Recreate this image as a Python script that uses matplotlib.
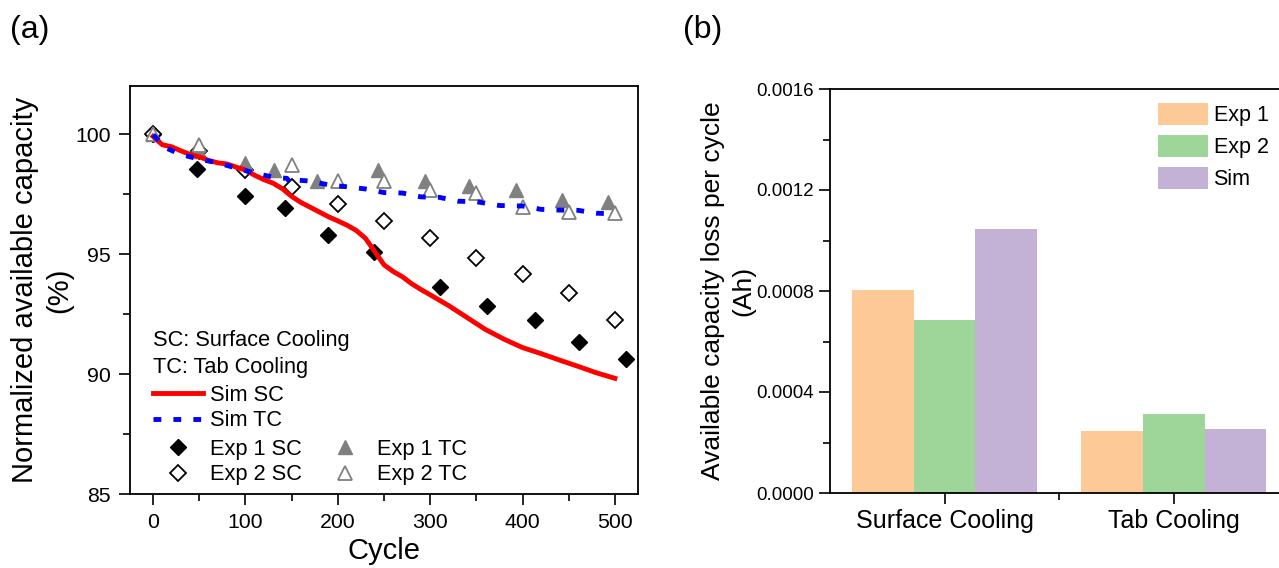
import numpy as np
import matplotlib
matplotlib.use("Agg")
import matplotlib.pyplot as plt
from matplotlib.ticker import MultipleLocator, FormatStrFormatter
from matplotlib.lines import Line2D

plt.rcParams['font.family'] = ['Liberation Sans', 'DejaVu Sans']

# (a) capacity vs cycle
sim_sc_cyc = [0, 10, 20, 30, 40, 50, 60, 70, 80, 90, 100, 110, 120, 130, 140, 150, 160, 170, 180, 190,
              200, 210, 220, 230, 240, 250, 260, 270, 280, 290, 300, 320, 340, 360, 380, 400, 420, 440,
              460, 480, 500]
sim_sc_val = [99.9, 99.55, 99.47, 99.3, 99.15, 99.05, 98.9, 98.8, 98.75, 98.62, 98.5, 98.28, 98.1, 97.95,
              97.72, 97.4, 97.15, 96.95, 96.75, 96.55, 96.38, 96.2, 95.98, 95.65, 95.1, 94.55, 94.27,
              94.05, 93.76, 93.52, 93.3, 92.85, 92.35, 91.85, 91.45, 91.1, 90.85, 90.58, 90.32, 90.05, 89.82]
sim_tc_cyc = [0, 15, 30, 50, 70, 90, 110, 130, 145, 149, 155, 170, 190, 210, 230, 250, 270, 290, 310, 330,
              350, 375, 400, 420, 440, 460, 480, 500]
sim_tc_val = [99.96, 99.4, 99.15, 98.95, 98.8, 98.58, 98.37, 98.2, 98.15, 97.95, 98.08, 98.04, 97.88, 97.8,
              97.71, 97.56, 97.54, 97.38, 97.36, 97.2, 97.18, 97.02, 97.0, 96.86, 96.83, 96.82, 96.7, 96.67]

exp1_sc_cyc = [0, 48, 100, 143, 189, 239, 311, 362, 413, 461, 512]
exp1_sc_val = [100, 98.53, 97.42, 96.9, 95.79, 95.07, 93.61, 92.85, 92.25, 91.35, 90.63]
exp2_sc_cyc = [0, 50, 100, 150, 200, 250, 300, 350, 400, 450, 500]
exp2_sc_val = [100, 99.3, 98.5, 97.8, 97.08, 96.36, 95.67, 94.82, 94.15, 93.39, 92.25]
exp1_tc_cyc = [0, 50, 100, 131, 177, 244, 294, 342, 393, 443, 493]
exp1_tc_val = [100, 99.3, 98.8, 98.5, 98.05, 98.5, 98.05, 97.85, 97.65, 97.25, 97.15]
exp2_tc_cyc = [0, 50, 150, 200, 250, 300, 350, 400, 450, 500]
exp2_tc_val = [100, 99.55, 98.7, 98.06, 98.06, 97.67, 97.56, 96.94, 96.75, 96.7]

# (b) capacity loss per cycle
groups = ['Surface Cooling', 'Tab Cooling']
loss_exp1 = [0.000805, 0.000246]
loss_exp2 = [0.000685, 0.000311]
loss_sim = [0.001046, 0.000252]
bar_colors = ['#FDC997', '#9ED69A', '#C3B1D6']

fig = plt.figure(figsize=(12.79, 5.68), dpi=100)

# ---------------- (a)
ax = fig.add_axes([130/1279, 1-494/568, 508/1279, 408/568])
ax.plot(exp1_sc_cyc, exp1_sc_val, 'D', color='black', ms=8, zorder=2)
ax.plot(exp2_sc_cyc, exp2_sc_val, 'D', mfc='white', mec='black', mew=1.3, ms=8, zorder=2)
ax.plot(exp1_tc_cyc, exp1_tc_val, '^', color='#808080', ms=10, zorder=2)
ax.plot(exp2_tc_cyc, exp2_tc_val, '^', mfc='white', mec='#808080', mew=1.3, ms=10, zorder=2)
ax.plot(sim_sc_cyc, sim_sc_val, '-', color='red', lw=3.5, zorder=3)
ax.plot(sim_tc_cyc, sim_tc_val, '--', color='blue', lw=3.5, dashes=(1.6, 2.5), zorder=3)

ax.set_xlim(-25, 525)
ax.set_ylim(85, 102)
ax.xaxis.set_major_locator(MultipleLocator(100))
ax.xaxis.set_minor_locator(MultipleLocator(50))
ax.yaxis.set_major_locator(MultipleLocator(5))
ax.yaxis.set_minor_locator(MultipleLocator(2.5))
ax.tick_params(which='both', direction='out', labelsize=15.3, width=1.2, pad=6)
ax.tick_params(which='major', length=8)
ax.tick_params(which='minor', length=5)
for s in ax.spines.values():
    s.set_linewidth(1.3)
ax.set_xlabel('Cycle', fontsize=21, labelpad=3)
ax.set_ylabel('Normalized available capacity\n(%)', fontsize=21, labelpad=1, linespacing=1.3)

ax.text(0.045, 0.377, 'SC: Surface Cooling', transform=ax.transAxes, fontsize=15.7, va='center')
ax.text(0.045, 0.311, 'TC: Tab Cooling', transform=ax.transAxes, fontsize=15.7, va='center')

h_sim = [Line2D([], [], color='red', lw=3.5),
         Line2D([], [], color='blue', lw=3.5, ls='--', dashes=(1.6, 2.5))]
leg1 = ax.legend(h_sim, ['Sim SC', 'Sim TC'], loc='upper left', bbox_to_anchor=(0.045, 0.268),
                 frameon=False, fontsize=15.7, handlelength=2.3, handletextpad=0.3,
                 labelspacing=0.22, borderpad=0, borderaxespad=0)
ax.add_artist(leg1)
h_exp = [Line2D([], [], ls='', marker='D', color='black', ms=8),
         Line2D([], [], ls='', marker='D', mfc='white', mec='black', mew=1.3, ms=8),
         Line2D([], [], ls='', marker='^', color='#808080', ms=10),
         Line2D([], [], ls='', marker='^', mfc='white', mec='#808080', mew=1.3, ms=10)]
ax.legend(h_exp, ['Exp 1 SC', 'Exp 2 SC', 'Exp 1 TC', 'Exp 2 TC'], ncol=2, loc='upper left',
          bbox_to_anchor=(0.045, 0.136), frameon=False, fontsize=15.7, handlelength=2.3,
          handletextpad=0.3, labelspacing=0.22, columnspacing=0.85, borderpad=0, borderaxespad=0)

# ---------------- (b)
bx = fig.add_axes([830/1279, 1-493/568, 449/1279, 404/568])
x = np.arange(len(groups))
w = 0.27
bx.bar(x - w, loss_exp1, w, color=bar_colors[0], label='Exp 1')
bx.bar(x, loss_exp2, w, color=bar_colors[1], label='Exp 2')
bx.bar(x + w, loss_sim, w, color=bar_colors[2], label='Sim')
bx.set_xlim(-0.5, 1.46)
bx.set_ylim(0, 0.0016)
bx.set_xticks(x)
bx.set_xticklabels(groups, fontsize=18)
bx.set_xticks([0.5], minor=True)
bx.yaxis.set_major_locator(MultipleLocator(0.0004))
bx.yaxis.set_minor_locator(MultipleLocator(0.0002))
bx.yaxis.set_major_formatter(FormatStrFormatter('%.4f'))
bx.tick_params(axis='y', labelsize=13.5)
bx.tick_params(which='both', direction='out', width=1.2)
bx.tick_params(which='major', length=8)
bx.tick_params(which='minor', length=5)
bx.spines['right'].set_visible(False)
for s in ['left', 'bottom', 'top']:
    bx.spines[s].set_linewidth(1.3)
bx.set_ylabel('Available capacity loss per cycle\n(Ah)', fontsize=19, labelpad=1, linespacing=1.3)
bx.legend(loc='upper left', bbox_to_anchor=(0.7305, 0.965), frameon=False, fontsize=15.5,
          handlelength=2.33, handleheight=1.16, handletextpad=0.25, labelspacing=0.42,
          borderpad=0, borderaxespad=0)

fig.text(10/1279, 1-30/568, '(a)', fontsize=23, va='center')
fig.text(683/1279, 1-30/568, '(b)', fontsize=23, va='center')

fig.savefig('out.png', dpi=100)
